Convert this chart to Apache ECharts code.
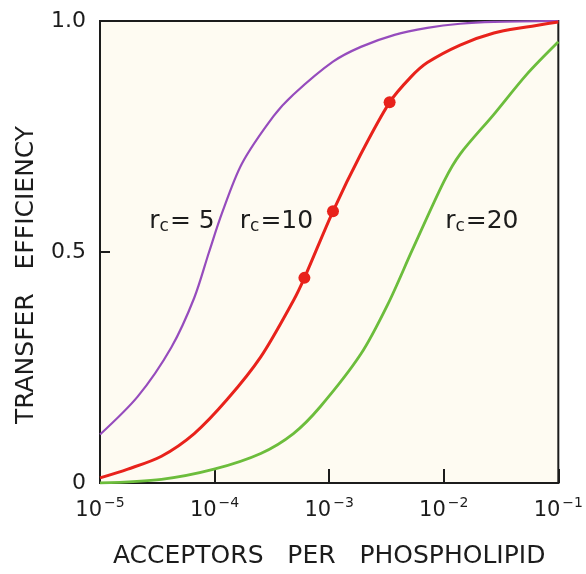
<!DOCTYPE html>
<html>
<head>
<meta charset="utf-8">
<script src="https://cdn.jsdelivr.net/npm/echarts@6/dist/echarts.min.js"></script>
<style>html,body{margin:0;padding:0;background:#fff;}#c{width:586px;height:574px;}</style>
</head>
<body>
<div id="c"></div>
<script>
// ---- data ----
const xTicks = [1e-5, 1e-4, 1e-3, 1e-2, 1e-1];
const yTickLabels = {0: '0', 0.5: '0.5', 1: '1.0'};

const rc5X = [1.0e-5, 2.13e-5, 4.2e-5, 6.65e-5, 8.95e-5, 1.16e-4, 1.73e-4, 3.27e-4, 4.88e-4, 1.08e-3, 1.89e-3, 3.72e-3, 7.19e-3, 1.39e-2, 2.74e-2, 0.1];
const rc5Y = [0.105, 0.187, 0.294, 0.401, 0.500, 0.584, 0.691, 0.794, 0.841, 0.912, 0.944, 0.970, 0.985, 0.994, 0.998, 1.0];

const rc10X = [1e-5, 1.75e-5, 3.44e-5, 6.65e-5, 1.28e-4, 2.53e-4, 4.88e-4, 6.08e-4, 1.08e-3, 1.89e-3, 3.37e-3, 5.13e-3, 7.19e-3, 1.39e-2, 2.74e-2, 5.28e-2, 0.1];
const rc10Y = [0.011, 0.030, 0.058, 0.107, 0.180, 0.273, 0.395, 0.444, 0.588, 0.712, 0.824, 0.878, 0.910, 0.948, 0.974, 0.987, 0.998];

const rc20X = [1e-5, 3.44e-5, 9.9e-5, 2.53e-4, 4.88e-4, 8.36e-4, 1.89e-3, 3.24e-3, 5.33e-3, 1.01e-2, 1.39e-2, 2.74e-2, 5.28e-2, 0.1];
const rc20Y = [0.0, 0.008, 0.030, 0.064, 0.107, 0.165, 0.279, 0.386, 0.505, 0.654, 0.712, 0.798, 0.884, 0.955];

const measuredX = [6.08e-4, 1.08e-3, 3.37e-3];
const measuredY = [0.444, 0.588, 0.824];

const curveLabels = ['5', '10', '20'];
const curveLabelX = [5.2e-5, 3.47e-4, 2.15e-2];
const curveLabelY = [0.566, 0.566, 0.566];
// --------------------------------------

const FONT = 'DejaVu Sans';
const INK = '#1c1c1c';
const zip = (xs, ys) => xs.map((x, i) => [x, ys[i]]);
const expOf = v => Math.round(Math.log10(v));

const chart = echarts.init(document.getElementById('c'), null, {renderer: 'canvas'});
chart.setOption({
  animation: false,
  backgroundColor: '#ffffff',
  grid: {
    left: 100, right: 24, top: 21, bottom: 87,
    show: true, backgroundColor: '#fefbf2', borderColor: INK, borderWidth: 2
  },
  xAxis: {
    type: 'log', logBase: 10, min: 1e-5, max: 1e-1,
    axisLine: {show: true, onZero: false, lineStyle: {color: INK, width: 2}},
    axisTick: {show: true, inside: true, length: 14, lineStyle: {color: INK, width: 2}},
    splitLine: {show: false},
    minorTick: {show: false},
    axisLabel: {
      margin: 13, color: INK, fontFamily: FONT,
      formatter: v => '{b|10}{s|−' + Math.abs(expOf(v)) + '}',
      rich: {
        b: {fontSize: 21, fontFamily: FONT, color: INK},
        s: {fontSize: 14, fontFamily: FONT, color: INK, padding: [0, 0, 16, 2]}
      }
    },
    name: 'ACCEPTORS   PER   PHOSPHOLIPID',
    nameLocation: 'middle', nameGap: 61,
    nameTextStyle: {fontSize: 25, fontFamily: FONT, color: INK}
  },
  yAxis: {
    type: 'value', min: 0, max: 1, interval: 0.5,
    axisLine: {show: true, lineStyle: {color: INK, width: 2}},
    axisTick: {show: true, inside: true, length: 10, lineStyle: {color: INK, width: 2}},
    splitLine: {show: false},
    axisLabel: {
      margin: 14, fontSize: 22, fontFamily: FONT, color: INK,
      formatter: v => yTickLabels[v] !== undefined ? yTickLabels[v] : ''
    },
    name: 'TRANSFER   EFFICIENCY',
    nameLocation: 'middle', nameGap: 61, nameRotate: 90,
    nameTextStyle: {fontSize: 25, fontFamily: FONT, color: INK, padding: [0, 46, 0, 0]}
  },
  series: [
    {type: 'line', data: zip(rc5X, rc5Y), smooth: 0.3, showSymbol: false,
     lineStyle: {color: '#964cbd', width: 2.2}, z: 3},
    {type: 'line', data: zip(rc10X, rc10Y), smooth: 0.3, showSymbol: false,
     lineStyle: {color: '#e8221b', width: 3}, z: 4},
    {type: 'line', data: zip(rc20X, rc20Y), smooth: 0.3, showSymbol: false,
     lineStyle: {color: '#6cbd3c', width: 2.8}, z: 3},
    {type: 'scatter', data: zip(measuredX, measuredY), symbol: 'circle', symbolSize: 12,
     itemStyle: {color: '#e8221b', opacity: 1}, z: 5},
    {type: 'scatter', symbolSize: 0, z: 6, silent: true,
     itemStyle: {opacity: 1},
     data: curveLabelX.map((x, i) => ({value: [x, curveLabelY[i]], name: curveLabels[i]})),
     label: {
       show: true, position: 'inside', color: INK, opacity: 1, textBorderWidth: 0, textBorderColor: 'transparent',
       formatter: p => '{r|r}{c|c}{t|=' + (p.name === '5' ? ' 5' : p.name) + '}',
       rich: {
         r: {fontSize: 25, fontFamily: FONT, color: INK},
         c: {fontSize: 17, fontFamily: FONT, color: INK, padding: [11, 1, 0, 0]},
         t: {fontSize: 25, fontFamily: FONT, color: INK}
       }
     }}
  ]
});
</script>
</body>
</html>
